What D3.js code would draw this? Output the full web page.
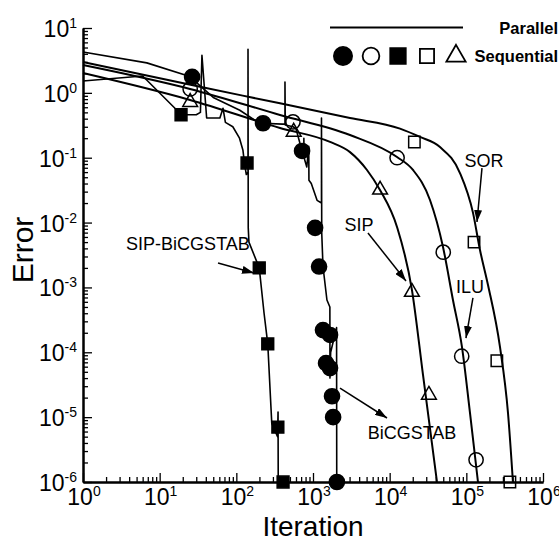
<!DOCTYPE html>
<html>
<head>
<meta charset="utf-8">
<script src="https://cdn.jsdelivr.net/npm/d3@7"></script>
<style>
  body { margin: 0; background: #fff; }
  text { font-family: "Liberation Sans", Arial, sans-serif; fill: #000; }
</style>
</head>
<body>
<div id="chart"></div>
<script>
// decades shown on the axes
const xDecades = [0, 1, 2, 3, 4, 5, 6];
const yDecades = [-6, -5, -4, -3, -2, -1, 0, 1];

// parallel runs (lines): [iteration, error]
const sorParallel = [[1, 2.99], [33.6, 1.24], [371, 0.69], [3037, 0.41], [13640, 0.281], [24850, 0.209],
    [45300, 0.146], [82600, 0.058], [122200, 0.0141], [150700, 0.00378], [191700, 0.00109],
    [274700, 1.21e-4], [349500, 1.16e-5], [405400, 1e-6]];
const iluParallel = [[1, 2.69], [24.9, 1.15], [371, 0.456], [3037, 0.224], [12470, 0.1025], [20140, 0.0647],
    [33560, 0.0223], [49630, 0.00421], [66930, 6.4e-4], [87700, 1.21e-4], [111600, 1.16e-5], [141900, 1e-6]];
const sipParallel = [[1, 2.02], [24.9, 0.777], [371, 0.287], [1667, 0.175], [3037, 0.122], [5058, 0.0647],
    [7480, 0.0318], [12470, 0.00855], [19540, 9.1e-4], [27220, 4.47e-5], [41410, 1e-6]];
const bicgParallel = [[1, 4.27], [6.8, 2.9], [26, 1.76], [30, 1.45], [50, 0.85], [111, 0.54], [174, 0.38],
    [223, 0.34], [400, 0.33], [431, 0.33], [431, 1.47], [435, 0.32], [550, 0.3], [600, 0.28], [720, 0.127],
    [760, 0.13], [760, 0.2], [765, 0.1], [830, 0.072], [880, 0.15], [885, 0.045], [950, 0.04], [1130, 0.022],
    [1290, 0.02], [1290, 0.41], [1300, 0.0069], [1350, 0.0021], [1520, 6.4e-4], [1660, 5e-4], [1665, 4e-5],
    [1700, 1e-4], [2030, 2.4e-4], [2040, 1e-6]];
const sipBicgParallel = [[1, 1.52], [6, 1.82], [16.8, 0.54], [19, 0.46], [30, 0.46], [34, 0.5], [35.6, 3.8],
    [41, 0.41], [61, 0.41], [67, 0.58], [72, 0.35], [90, 0.3], [110, 0.2], [122, 0.13], [128, 0.08],
    [135, 0.055], [142, 0.06], [142, 4.7], [143, 0.0083], [146, 0.005], [199, 0.002], [230, 4e-4],
    [257, 1.35e-4], [290, 8e-6], [345, 5e-6], [350, 1.2e-5], [352, 1e-6]];

// sequential runs (symbols)
const bicgSeq = [[26.5, 1.76], [223, 0.34], [720, 0.127], [1065, 0.0083], [1200, 0.0021], [1350, 2.2e-4],
    [1667, 1.85e-4], [1480, 6.8e-5], [1667, 5.7e-5], [1770, 2.1e-5], [1830, 1e-5], [2050, 1e-6]];
const iluSeq = [[25, 1.15], [548, 0.356], [12500, 0.1], [50000, 0.0035], [87000, 8.7e-5], [134000, 2.2e-6]];
const sipBicgSeq = [[19, 0.46], [138, 0.083], [199, 0.002], [257, 1.35e-4], [348, 7e-6], [407, 1e-6]];
const sorSeq = [[21000, 0.175], [126000, 0.005], [250000, 7.4e-5], [370000, 1e-6]];
const sipSeq = [[25, 0.72], [560, 0.25], [7500, 0.032], [19500, 8.5e-4], [32500, 2.2e-5]];

// labels with arrows: text at [it, err], arrow from -> to
const notes = [
    { label: "SOR", at: [170000, 0.092], from: [160000, 0.069], to: [137700, 0.0102] },
    { label: "SIP", at: [3980, 0.0095], from: [5210, 0.0069], to: [16330, 0.00126] },
    { label: "ILU", at: [111600, 0.00105], from: [122000, 6.9e-4], to: [98900, 1.66e-4] },
    { label: "SIP-BiCGSTAB", at: [23.4, 0.00484], from: [57.7, 0.00238], to: [170, 0.00167] },
    { label: "BiCGSTAB", at: [19540, 5.7e-6], from: [2250, 2.8e-5], to: [9230, 9.7e-6] }
];

const width = 559, height = 541;
const x = d3.scaleLog().domain([1, 1e6]).range([83, 543]);
const y = d3.scaleLog().domain([1e-6, 10]).range([482, 28]);

const svg = d3.select("#chart").append("svg")
    .attr("width", width).attr("height", height);

svg.append("defs").append("marker")
    .attr("id", "head")
    .attr("viewBox", "0 0 12 8")
    .attr("refX", 12).attr("refY", 4)
    .attr("markerWidth", 12).attr("markerHeight", 8)
    .attr("markerUnits", "userSpaceOnUse")
    .attr("orient", "auto")
    .append("path").attr("d", "M0,0 L12,4 L0,8 Z").attr("fill", "#000");

// minor tick values
let minorX = [], minorY = [];
xDecades.slice(0, -1).forEach(d => { for (let m = 2; m < 10; m++) minorX.push(m * Math.pow(10, d)); });
yDecades.slice(0, -1).forEach(d => { for (let m = 2; m < 10; m++) minorY.push(m * Math.pow(10, d)); });

let drawAxisX = (vals, size) => svg.append("g")
    .attr("transform", `translate(0,${y.range()[0]})`)
    .call(d3.axisBottom(x).tickValues(vals).tickSizeInner(-size).tickSizeOuter(0).tickFormat(""));
let drawAxisY = (vals, size) => svg.append("g")
    .attr("transform", `translate(${x.range()[0]},0)`)
    .call(d3.axisLeft(y).tickValues(vals).tickSizeInner(-size).tickSizeOuter(0).tickFormat(""));

drawAxisX(minorX, 5);
drawAxisY(minorY, 5);
const ax = drawAxisX(xDecades.map(d => Math.pow(10, d)), 9);
const ay = drawAxisY(yDecades.map(d => Math.pow(10, d)), 9);
svg.selectAll(".domain").attr("stroke-width", 2);
svg.selectAll(".tick line").attr("stroke-width", 1.3);

// tick labels 10^k
let power = (sel, k) => {
    sel.append("tspan").text("10");
    sel.append("tspan").attr("dy", -9).attr("font-size", 14).text(k);
};
xDecades.forEach(k => {
    svg.append("text").attr("x", x(Math.pow(10, k)) + 1).attr("y", 505)
        .attr("text-anchor", "middle").attr("font-size", 23)
        .call(power, k);
});
yDecades.forEach(k => {
    svg.append("text").attr("x", 77).attr("y", y(Math.pow(10, k)) + 9)
        .attr("text-anchor", "end").attr("font-size", 23)
        .call(power, k);
});

svg.append("text").attr("x", 313).attr("y", 536).attr("text-anchor", "middle")
    .attr("font-size", 28).text("Iteration");
svg.append("text").attr("transform", "translate(33,250) rotate(-90)")
    .attr("text-anchor", "middle").attr("font-size", 30).text("Error");

// parallel lines
let line = d3.line().x(d => x(d[0])).y(d => y(d[1]));
let smooth = d3.line().x(d => x(d[0])).y(d => y(d[1])).curve(d3.curveMonotoneX);

[sorParallel, iluParallel, sipParallel].forEach(s => {
    svg.append("path").attr("d", smooth(s)).attr("fill", "none")
        .attr("stroke", "#000").attr("stroke-width", 2);
});
[bicgParallel, sipBicgParallel].forEach(s => {
    svg.append("path").attr("d", line(s)).attr("fill", "none")
        .attr("stroke", "#000").attr("stroke-width", 1.6).attr("stroke-linejoin", "round");
});

// symbols
let sym = (type, size) => d3.symbol().type(type).size(size)();
let drawSymbols = (data, type, size, filled) => {
    svg.append("g").selectAll("path").data(data).join("path")
        .attr("transform", d => `translate(${x(d[0])},${y(d[1])})`)
        .attr("d", sym(type, size))
        .attr("fill", filled ? "#000" : "#fff")
        .attr("fill-opacity", filled ? 1 : 0)
        .attr("stroke", "#000").attr("stroke-width", 1.5);
};
drawSymbols(sorSeq, d3.symbolSquare, 130, false);
drawSymbols(iluSeq, d3.symbolCircle, 160, false);
drawSymbols(sipSeq, d3.symbolTriangle, 95, false);
drawSymbols(sipBicgSeq, d3.symbolSquare, 140, true);
drawSymbols(bicgSeq, d3.symbolCircle, 180, true);

// annotations
notes.forEach(n => {
    svg.append("text").attr("x", x(n.at[0])).attr("y", y(n.at[1]) + 6.5)
        .attr("text-anchor", "middle").attr("font-size", 18).text(n.label);
    svg.append("line")
        .attr("x1", x(n.from[0])).attr("y1", y(n.from[1]))
        .attr("x2", x(n.to[0])).attr("y2", y(n.to[1]))
        .attr("stroke", "#000").attr("stroke-width", 1.5)
        .attr("marker-end", "url(#head)");
});

// legend
const legend = svg.append("g");
legend.append("line").attr("x1", 330).attr("x2", 463).attr("y1", 27.5).attr("y2", 27.5)
    .attr("stroke", "#000").attr("stroke-width", 2);
legend.append("text").attr("x", 558).attr("y", 34).attr("text-anchor", "end")
    .attr("font-size", 16.5).attr("font-weight", "bold").text("Parallel");
const legendSyms = [
    [343, d3.symbolCircle, 260, true],
    [371, d3.symbolCircle, 220, false],
    [398, d3.symbolSquare, 240, true],
    [427, d3.symbolSquare, 200, false],
    [456, d3.symbolTriangle, 160, false]
];
legendSyms.forEach(([cx, type, size, filled]) => {
    legend.append("path").attr("transform", `translate(${cx},56)`)
        .attr("d", sym(type, size))
        .attr("fill", filled ? "#000" : "none")
        .attr("stroke", "#000").attr("stroke-width", 1.8);
});
legend.append("text").attr("x", 558).attr("y", 62).attr("text-anchor", "end")
    .attr("font-size", 16.5).attr("font-weight", "bold").text("Sequential");
</script>
</body>
</html>
